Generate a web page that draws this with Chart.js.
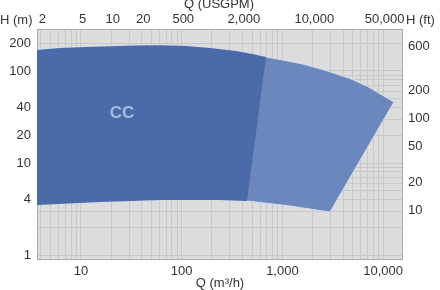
<!DOCTYPE html>
<html lang="en">
<head>
  <meta charset="UTF-8" />
  <title>CC performance range</title>
  <style>
    * { margin: 0; padding: 0; box-sizing: border-box; }
    body { background: #fff; width: 440px; height: 290px; overflow: hidden; }
    canvas { display: block; }
  </style>
</head>
<body>
  <canvas id="curveChart" width="440" height="290"></canvas>

  <script src="https://cdn.jsdelivr.net/npm/chart.js"></script>
  <script>
    // axis ticks
    const qTicks = [10, 100, 1000, 10000];            // m3/h
    const hTicks = [1, 4, 10, 20, 40, 100, 200];      // m
    const ftTicks = [10, 20, 50, 100, 200, 600];      // ft
    const gpmTicks = [20, 50, 100, 200, 500, 2000, 10000, 50000];
    const gpmLabels = ['2', '5', '10', '20', '500', '2,000', '10,000', '50,000'];

    // full range outline (Q m3/h, H m)
    const outlineQ = [3.66, 6.2, 11.2, 35, 61, 110, 191, 346, 500, 687, 1060, 1600, 2650, 4690, 7000, 12800, 2970, 1190, 445, 240, 61, 15.4, 3.66, 3.66];
    const outlineH = [169, 178, 182, 189, 190, 187, 178, 165, 153, 142, 130, 119, 102, 83, 68, 46, 2.93, 3.41, 3.87, 3.96, 3.96, 3.77, 3.5, 169];

    // main (darker) part of the range
    const mainQ = [3.66, 6.2, 11.2, 35, 61, 110, 191, 346, 500, 687, 445, 240, 61, 15.4, 3.66, 3.66];
    const mainH = [169, 178, 182, 189, 190, 187, 178, 165, 153, 142, 3.87, 3.96, 3.96, 3.77, 3.5, 169];

    const M3H_TO_GPM = 4.403;
    const M_TO_FT = 3.281;
    const Q_MIN = 3.66, Q_MAX = 15400, H_MIN = 0.905, H_MAX = 286;

    const toPoints = (xs, ys) => xs.map((x, i) => ({ x: x, y: ys[i] }));

    function logGrid(min, max) {
      const out = [];
      for (let d = 0.1; d <= 100000; d *= 10) {
        for (let k = 1; k <= 9; k++) {
          const v = Math.round(d * k * 1000) / 1000;
          if (v >= min && v <= max) out.push({ value: v });
        }
      }
      return out;
    }

    const font = { family: "'Liberation Sans', Arial, sans-serif", size: 13 };
    const textColor = '#333';
    const gridColor = '#c8c8c8';
    const frame = { display: true, color: '#a8a8a8', width: 1 };

    const textPlugin = {
      id: 'textPlugin',
      beforeDraw(chart) {
        const a = chart.chartArea, c = chart.ctx;
        c.save();
        c.fillStyle = '#dddddd';
        c.fillRect(a.left, a.top, a.right - a.left, a.bottom - a.top);
        c.restore();
      },
      afterDatasetsDraw(chart) {
        const c = chart.ctx;
        c.save();
        c.font = "13px 'Liberation Sans', Arial, sans-serif";
        c.fillStyle = textColor;
        c.textBaseline = 'middle';
        c.textAlign = 'center';
        c.fillText('Q (USGPM)', 219, 4);
        c.fillText('Q (m³/h)', 220, 283);
        c.textAlign = 'left';
        c.fillText('H (m)', 0, 20);
        c.fillText('H (ft)', 406, 20);
        // range label
        const xs = chart.scales.x, ys = chart.scales.y;
        c.font = "bold 17px 'Liberation Sans', Arial, sans-serif";
        c.fillStyle = '#a7bbe0';
        c.textAlign = 'center';
        c.fillText('CC', xs.getPixelForValue(25.5), ys.getPixelForValue(35));
        c.restore();
      }
    };

    new Chart(document.getElementById('curveChart'), {
      type: 'scatter',
      data: {
        datasets: [
          {
            data: toPoints(mainQ, mainH),
            showLine: true,
            fill: 'shape',
            backgroundColor: '#4b6ba8',
            borderColor: 'rgba(0,0,0,0)',
            borderWidth: 0,
            pointRadius: 0
          },
          {
            data: toPoints(outlineQ, outlineH),
            showLine: true,
            fill: 'shape',
            backgroundColor: '#6b87bd',
            borderColor: '#d3ddef',
            borderWidth: 1,
            pointRadius: 0
          }
        ]
      },
      plugins: [textPlugin],
      options: {
        responsive: false,
        animation: false,
        layout: { padding: 0 },
        plugins: { legend: { display: false }, tooltip: { enabled: false } },
        scales: {
          x: {
            type: 'logarithmic', position: 'bottom', min: Q_MIN, max: Q_MAX,
            afterBuildTicks: s => { s.ticks = logGrid(Q_MIN, Q_MAX); },
            afterFit: s => { s.height = 31; },
            grid: { color: gridColor, drawTicks: false },
            border: frame,
            ticks: {
              autoSkip: false, maxRotation: 0, padding: 5, font: font, color: textColor,
              callback: v => qTicks.includes(v) ? v.toLocaleString('en-US') : ''
            }
          },
          x2: {
            type: 'logarithmic', position: 'top', min: Q_MIN, max: Q_MAX,
            afterBuildTicks: s => { s.ticks = gpmTicks.map(g => ({ value: g / M3H_TO_GPM })); },
            afterFit: s => { s.height = 29; },
            grid: { display: false, drawTicks: false },
            border: frame,
            ticks: {
              autoSkip: false, maxRotation: 0, padding: 2, labelOffset: -4, font: font, color: textColor,
              callback: (v, i) => gpmLabels[i]
            }
          },
          y: {
            type: 'logarithmic', position: 'left', min: H_MIN, max: H_MAX,
            afterBuildTicks: s => { s.ticks = logGrid(H_MIN, H_MAX); },
            afterFit: s => { s.width = 37; },
            grid: { color: gridColor, drawTicks: false },
            border: frame,
            ticks: {
              autoSkip: false, padding: 6, font: font, color: textColor,
              callback: v => hTicks.includes(v) ? String(v) : ''
            }
          },
          y2: {
            type: 'logarithmic', position: 'right', min: H_MIN, max: H_MAX,
            afterBuildTicks: s => { s.ticks = ftTicks.map(f => ({ value: f / M_TO_FT })); },
            afterFit: s => { s.width = 38; },
            grid: { display: false, drawTicks: false },
            border: frame,
            ticks: {
              autoSkip: false, padding: 6, font: font, color: textColor,
              callback: (v, i) => String(ftTicks[i])
            }
          }
        }
      }
    });
  </script>
</body>
</html>
